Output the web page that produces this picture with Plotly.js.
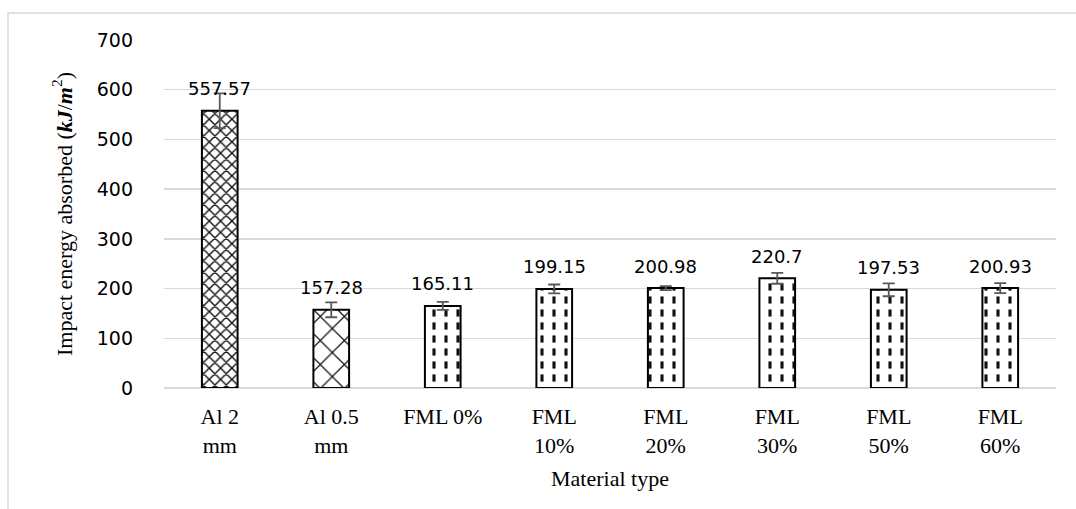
<!DOCTYPE html>
<html>
<head>
<meta charset="utf-8">
<script src="https://cdn.plot.ly/plotly-3.0.1.min.js"></script>
<style>html,body{margin:0;padding:0;background:#fff;}#chart{width:1076px;height:509px;}</style>
</head>
<body>
<div id="chart"></div>
<script>
// ---- data ----
const categories = ["Al 2<br>mm", "Al 0.5<br>mm", "FML 0%", "FML<br>10%", "FML<br>20%", "FML<br>30%", "FML<br>50%", "FML<br>60%"];
const energy = [557.57, 157.28, 165.11, 199.15, 200.98, 220.7, 197.53, 200.93];
const errorVals = [35, 15, 8, 9, 4, 11, 13, 10];
const valueLabels = ["557.57", "157.28", "165.11", "199.15", "200.98", "220.7", "197.53", "200.93"];

// ---- styling ----
const baseShapes = ["x", "x", "|", "|", "|", "|", "|", "|"];
const baseSizes = [8, 17, 12, 12, 12, 12, 12, 12];
const baseSolid = [0.32, 0.14, 0.26, 0.26, 0.26, 0.26, 0.26, 0.26];
const cutShapes = ["", "", "-", "-", "-", "-", "-", "-"];

const base = {
  type: "bar", x: categories, y: energy, hoverinfo: "skip", showlegend: false,
  marker: {
    color: "white",
    line: {width: 0},
    pattern: {shape: baseShapes, size: baseSizes, solidity: baseSolid, fgcolor: "#111", bgcolor: "white", fgopacity: 1}
  }
};
const cut = {
  type: "bar", x: categories, y: energy, hoverinfo: "skip", showlegend: false,
  marker: {
    color: "rgba(0,0,0,0)",
    line: {width: 2, color: "#000"},
    pattern: {shape: cutShapes, size: 13, solidity: 0.45, fgcolor: "white", bgcolor: "rgba(0,0,0,0)", fgopacity: 1}
  },
  error_y: {type: "data", array: errorVals, visible: true, color: "#595959", thickness: 1.8, width: 6}
};

const annotations = categories.map((c, i) => ({
  x: c, y: energy[i], xref: "x", yref: "y", text: valueLabels[i], showarrow: false,
  yanchor: "middle", yshift: 22,
  font: {family: "DejaVu Sans", size: 18, color: "#000"}
}));

const layout = {
  width: 1076, height: 509,
  margin: {l: 164, r: 20, t: 40, b: 121},
  paper_bgcolor: "white", plot_bgcolor: "white",
  barmode: "overlay", bargap: 0.68,
  showlegend: false,
  xaxis: {
    type: "category", ticks: "", showline: false, showgrid: false,
    tickfont: {family: "Liberation Serif", size: 22, color: "#000"},
    ticklabelstandoff: 13,
    title: {text: "Material type", font: {family: "Liberation Serif", size: 22, color: "#000"}, standoff: 14}
  },
  yaxis: {
    range: [0, 700], dtick: 100, tick0: 0, ticks: "", showline: false,
    gridcolor: "#d9d9d9", gridwidth: 1.5, zeroline: true, zerolinecolor: "#d9d9d9", zerolinewidth: 1.5,
    tickfont: {family: "DejaVu Sans", size: 19, color: "#000"},
    ticklabelstandoff: 30,
    title: {text: "Impact energy absorbed (<b><i>kJ</i></b>/<b><i>m</i></b><sup>2</sup>)", font: {family: "Liberation Serif", size: 22, color: "#000"}, standoff: 18}
  },
  annotations: annotations,
  shapes: [{
    type: "path", xref: "paper", yref: "paper",
    path: "M -0.1749,-0.4 L -0.1749,1.0776 L 1.04,1.0776",
    line: {color: "#d9d9d9", width: 1.5}
  }]
};

Plotly.newPlot("chart", [base, cut], layout, {staticPlot: true, displayModeBar: false});
</script>
</body>
</html>
